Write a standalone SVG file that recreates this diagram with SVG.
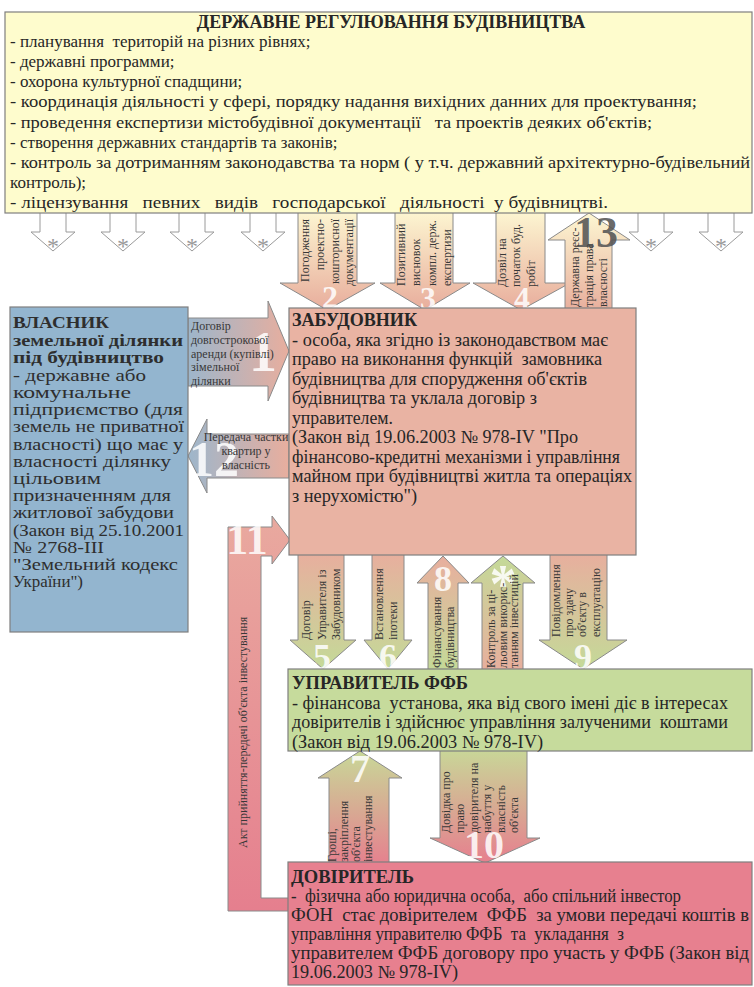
<svg xmlns="http://www.w3.org/2000/svg" width="754" height="987" viewBox="0 0 754 987">
<defs>
<style>
text { white-space: pre; font-family: "Liberation Serif", "Times New Roman", serif; }
.tx { fill: #262626; }
.b { font-weight: bold; }
.s17 { font-size: 17px; }
.s18 { font-size: 18px; }
.own { font-size: 17px; fill: #2e2e2e; }
.lbl { font-size: 12px; fill: #383838; }
.num { fill: #ffffff; fill-opacity: 0.85; text-anchor: middle; font-weight: bold; }
.star { fill: #9a9a9a; font-size: 24px; text-anchor: middle; }
.box { stroke: #7f7f7f; stroke-width: 1.2; }
.arr { stroke: #8a8a8a; stroke-width: 1; }
.hollow { fill: #ffffff; stroke: #9a9a9a; stroke-width: 1; }
</style>
<linearGradient id="gYS" x1="0" y1="0" x2="0" y2="1">
<stop offset="0" stop-color="#fdf7d2"/><stop offset="1" stop-color="#e8ad9c"/>
</linearGradient>
<linearGradient id="gSG" x1="0" y1="0" x2="0" y2="1">
<stop offset="0" stop-color="#e8ae9e"/><stop offset="1" stop-color="#c4da98"/>
</linearGradient>
<linearGradient id="gGS" x1="0" y1="0" x2="0" y2="1">
<stop offset="0" stop-color="#c4da98"/><stop offset="1" stop-color="#e8ae9e"/>
</linearGradient>
<linearGradient id="gGP" x1="0" y1="0" x2="0" y2="1">
<stop offset="0" stop-color="#c8d898"/><stop offset="1" stop-color="#e67f8e"/>
</linearGradient>
<linearGradient id="gBS" x1="0" y1="0" x2="1" y2="0">
<stop offset="0" stop-color="#9db6cb"/><stop offset="1" stop-color="#e8ae9e"/>
</linearGradient>
<linearGradient id="gSP" x1="0" y1="0" x2="0" y2="1">
<stop offset="0" stop-color="#e9a99f"/><stop offset="1" stop-color="#e57f8e"/>
</linearGradient>
</defs>
<rect width="754" height="987" fill="#ffffff"/>

<g id="connectors">
  <g id="star-arrows">
    <polygon class="hollow" points="40,210 66,210 66,232 75,232 53,251 31,232 40,232"/>
    <text class="star" x="53" y="254">*</text>
    <polygon class="hollow" points="110,210 136,210 136,232 145,232 123,251 101,232 110,232"/>
    <text class="star" x="123" y="254">*</text>
    <polygon class="hollow" points="179,210 205,210 205,232 214,232 192,251 170,232 179,232"/>
    <text class="star" x="192" y="254">*</text>
    <polygon class="hollow" points="250,210 276,210 276,232 285,232 263,251 241,232 250,232"/>
    <text class="star" x="263" y="254">*</text>
    <polygon class="hollow" points="638,210 664,210 664,232 673,232 651,251 629,232 638,232"/>
    <text class="star" x="651" y="254">*</text>
    <polygon class="hollow" points="708,210 734,210 734,232 743,232 721,251 699,232 708,232"/>
    <text class="star" x="721" y="254">*</text>
  </g>

  <g id="arrow-2">
    <polygon class="arr" fill="url(#gYS)" points="298,210 357,210 357,283 375,283 327,310 280,283 298,283"/>
    <text class="num" x="330" y="308" font-size="32" fill-opacity="0.7">2</text>
    <g class="lbl" text-anchor="end">
      <text transform="translate(309,219) rotate(-90)">Погодження</text>
      <text transform="translate(324,219) rotate(-90)">проектно-</text>
      <text transform="translate(339,219) rotate(-90)">кошторисної</text>
      <text transform="translate(353,219) rotate(-90)">документації</text>
    </g>
  </g>

  <g id="arrow-3">
    <polygon class="arr" fill="url(#gYS)" points="395,210 453,210 453,283 470,283 425,310 380,283 395,283"/>
    <text class="num" x="428" y="309" font-size="32" fill-opacity="0.7">3</text>
    <g class="lbl">
      <text transform="translate(405,286) rotate(-90)">Позитивний</text>
      <text transform="translate(420,286) rotate(-90)">висновок</text>
      <text transform="translate(436,286) rotate(-90)">компл. держ.</text>
      <text transform="translate(451,286) rotate(-90)">експертизи</text>
    </g>
  </g>

  <g id="arrow-4">
    <polygon class="arr" fill="url(#gYS)" points="496,210 545,210 545,283 570,283 521,310 473,283 496,283"/>
    <text class="num" x="522" y="309" font-size="32" fill-opacity="0.7">4</text>
    <g class="lbl">
      <text transform="translate(506,287) rotate(-90)">Дозвіл на</text>
      <text transform="translate(520,287) rotate(-90)">початок буд.</text>
      <text transform="translate(535,287) rotate(-90)">робіт</text>
    </g>
  </g>

  <g id="arrow-13">
    <polygon class="arr" fill="url(#gYS)" points="565,312 612,312 612,240 630,240 589,213 548,240 565,240"/>
    <text x="596" y="247" font-size="44" font-weight="bold" fill="#555555" fill-opacity="0.9" text-anchor="middle">13</text>
    <g class="lbl">
      <text transform="translate(579,307) rotate(-90)">Державна реєс-</text>
      <text transform="translate(593,307) rotate(-90)">трація права</text>
      <text transform="translate(607,307) rotate(-90)">власності</text>
    </g>
  </g>

  <g id="arrow-1">
    <polygon class="arr" fill="url(#gBS)" points="188,318 268,318 268,301 289,351 268,401 268,386 188,386"/>
    <text class="num" x="263" y="371" font-size="56">1</text>
    <g class="lbl">
      <text x="191" y="330">Договір</text>
      <text x="191" y="344">довгострокової</text>
      <text x="191" y="358">аренди (купівлі)</text>
      <text x="191" y="371">зімельної</text>
      <text x="191" y="385">ділянки</text>
    </g>
  </g>

  <g id="arrow-12">
    <polygon class="arr" fill="url(#gBS)" points="289,434 207,434 207,419 188,456 207,493 207,478 289,478"/>
    <text class="num" x="214" y="476" font-size="50">12</text>
    <g class="lbl" text-anchor="middle">
      <text x="246" y="441">Передача частки</text>
      <text x="246" y="455">квартир у</text>
      <text x="246" y="469">власність</text>
    </g>
  </g>

  <g id="arrow-11">
    <polygon class="arr" fill="url(#gSP)" points="296,898 261,898 261,556 272,556 272,564 290,540 272,516 272,527 228,527 228,911 296,911"/>
    <text class="num" x="247" y="554" font-size="44">11</text>
    <text class="lbl" font-size="11.5" transform="translate(247,848) rotate(-90)">Акт прийняття-передачі об'єкта інвестування</text>
  </g>

  <g id="arrow-5">
    <polygon class="arr" fill="url(#gSG)" points="298,552 344,552 344,640 356,640 323,669 290,640 298,640"/>
    <text class="num" x="322" y="669" font-size="36">5</text>
    <g class="lbl">
      <text transform="translate(310,640) rotate(-90)">Договір</text>
      <text transform="translate(326,640) rotate(-90)">Управителя із</text>
      <text transform="translate(340,640) rotate(-90)">Забудовником</text>
    </g>
  </g>

  <g id="arrow-6">
    <polygon class="arr" fill="url(#gSG)" points="372,552 404,552 404,640 412,640 388,669 364,640 372,640"/>
    <text class="num" x="388" y="669" font-size="36">6</text>
    <g class="lbl">
      <text transform="translate(383,640) rotate(-90)">Встановлення</text>
      <text transform="translate(397,640) rotate(-90)">іпотеки</text>
    </g>
  </g>

  <g id="arrow-8">
    <polygon class="arr" fill="url(#gSG)" points="428,672 458,672 458,583 469,583 443,556 417,583 428,583"/>
    <text class="num" x="443" y="591" font-size="36">8</text>
    <g class="lbl">
      <text transform="translate(441,668) rotate(-90)">Фінансування</text>
      <text transform="translate(454,668) rotate(-90)">будівництва</text>
    </g>
  </g>

  <g id="arrow-star">
    <polygon class="arr" fill="url(#gGS)" points="482,672 523,672 523,583 535,583 503,556 471,583 482,583"/>
    <text class="num" x="503" y="602" font-size="54">*</text>
    <g class="lbl" font-size="11.5">
      <text transform="translate(495,668) rotate(-90)">Контроль за ці-</text>
      <text transform="translate(507,668) rotate(-90)">льовим викорис-</text>
      <text transform="translate(518,668) rotate(-90)">танням інвестицій</text>
    </g>
  </g>

  <g id="arrow-9">
    <polygon class="arr" fill="url(#gSG)" points="550,552 607,552 607,640 627,640 583,669 539,640 550,640"/>
    <text class="num" x="583" y="669" font-size="36">9</text>
    <g class="lbl">
      <text transform="translate(560,637) rotate(-90)">Повідомлення</text>
      <text transform="translate(573,637) rotate(-90)">про здачу</text>
      <text transform="translate(586,637) rotate(-90)">об'єкту в</text>
      <text transform="translate(600,637) rotate(-90)">експлуатацію</text>
    </g>
  </g>

  <g id="arrow-7">
    <polygon class="arr" fill="url(#gGP)" points="329,866 389,866 389,778 402,778 360,751 318,778 329,778"/>
    <text class="num" x="360" y="782" font-size="40">7</text>
    <g class="lbl">
      <text transform="translate(336,862) rotate(-90)">Гроші,</text>
      <text transform="translate(348,862) rotate(-90)">закріплення</text>
      <text transform="translate(360,862) rotate(-90)">об'єкта</text>
      <text transform="translate(372,862) rotate(-90)">інвестування</text>
    </g>
  </g>

  <g id="arrow-10">
    <polygon class="arr" fill="url(#gGP)" points="440,748 527,748 527,838 540,838 485,863 430,838 440,838"/>
    <text class="num" x="484" y="858" font-size="40">10</text>
    <g class="lbl">
      <text transform="translate(450,833) rotate(-90)">Довідка про</text>
      <text transform="translate(464,833) rotate(-90)">право</text>
      <text transform="translate(478,833) rotate(-90)">довірителя на</text>
      <text transform="translate(491,833) rotate(-90)">набуття у</text>
      <text transform="translate(505,833) rotate(-90)">власність</text>
      <text transform="translate(518,833) rotate(-90)">об'єкта</text>
    </g>
  </g>
</g>

<g id="state-regulation">
  <rect class="box" x="5" y="12" width="747" height="201" fill="#fefccd"/>
  <g class="tx s17">
    <text x="391" y="28" class="b" font-size="18" text-anchor="middle">ДЕРЖАВНЕ РЕГУЛЮВАННЯ БУДІВНИЦТВА</text>
    <text x="10" y="47">- планування  територій на різних рівнях;</text>
    <text x="10" y="67">- державні программи;</text>
    <text x="10" y="87">- охорона культурної спадщини;</text>
    <text x="10" y="107" textLength="687" lengthAdjust="spacingAndGlyphs">- координація діяльності у сфері, порядку надання вихідних данних для проектування;</text>
    <text x="10" y="127.5" textLength="642" lengthAdjust="spacingAndGlyphs">- проведення експертизи містобудівної документації   та проектів деяких об'єктів;</text>
    <text x="10" y="147.5">- створення державних стандартів та законів;</text>
    <text x="10" y="167.5" textLength="740" lengthAdjust="spacingAndGlyphs">- контроль за дотриманням законодавства та норм ( у т.ч. державний архітектурно-будівельний</text>
    <text x="10" y="187.5">контроль);</text>
    <text x="10" y="207.5" textLength="598" lengthAdjust="spacingAndGlyphs">- ліцензування   певних   видів   господарської   діяльності  у будівництві.</text>
  </g>
</g>

<g id="owner">
  <rect class="box" x="10" y="307" width="178" height="325" fill="#93b5cf"/>
  <g class="own">
    <text x="13" y="328" class="b" textLength="96" lengthAdjust="spacingAndGlyphs">ВЛАСНИК</text>
    <text x="13" y="346" class="b" textLength="170" lengthAdjust="spacingAndGlyphs">земельної ділянки</text>
    <text x="13" y="363" class="b" textLength="151" lengthAdjust="spacingAndGlyphs">під будівництво</text>
    <text x="13" y="380.5" textLength="133" lengthAdjust="spacingAndGlyphs">- державне або</text>
    <text x="13" y="397.5" textLength="118" lengthAdjust="spacingAndGlyphs">комунальне</text>
    <text x="13" y="415" textLength="170" lengthAdjust="spacingAndGlyphs">підприємство (для</text>
    <text x="13" y="432" textLength="171" lengthAdjust="spacingAndGlyphs">земель не приватної</text>
    <text x="13" y="449.5" textLength="170" lengthAdjust="spacingAndGlyphs">власності) що має у</text>
    <text x="13" y="466.5" textLength="158" lengthAdjust="spacingAndGlyphs">власності ділянку</text>
    <text x="13" y="484" textLength="88" lengthAdjust="spacingAndGlyphs">цільовим</text>
    <text x="13" y="501" textLength="158" lengthAdjust="spacingAndGlyphs">призначенням для</text>
    <text x="13" y="518" textLength="161" lengthAdjust="spacingAndGlyphs">житлової забудови</text>
    <text x="13" y="535.5" textLength="171" lengthAdjust="spacingAndGlyphs">(Закон від 25.10.2001</text>
    <text x="13" y="552.5" textLength="91" lengthAdjust="spacingAndGlyphs">№ 2768-III</text>
    <text x="13" y="570" textLength="165" lengthAdjust="spacingAndGlyphs">"Земельний кодекс</text>
    <text x="13" y="587" textLength="70" lengthAdjust="spacingAndGlyphs">України")</text>
  </g>
</g>

<g id="developer">
  <rect class="box" x="289" y="308" width="347" height="247" fill="#e9b3a3"/>
  <g class="tx s18">
    <text x="292" y="326" class="b" textLength="125" lengthAdjust="spacingAndGlyphs">ЗАБУДОВНИК</text>
    <text x="292" y="345.5" textLength="316" lengthAdjust="spacingAndGlyphs">- особа, яка згідно із законодавством має</text>
    <text x="292" y="365" textLength="310" lengthAdjust="spacingAndGlyphs">право на виконання функцій  замовника</text>
    <text x="292" y="384.5" textLength="295" lengthAdjust="spacingAndGlyphs">будівництва для спорудження об'єктів</text>
    <text x="292" y="404" textLength="245" lengthAdjust="spacingAndGlyphs">будівництва та уклала договір з</text>
    <text x="292" y="423.5" textLength="101" lengthAdjust="spacingAndGlyphs">управителем.</text>
    <text x="292" y="443" textLength="286" lengthAdjust="spacingAndGlyphs">(Закон від 19.06.2003 № 978-IV "Про</text>
    <text x="292" y="462.5" textLength="328" lengthAdjust="spacingAndGlyphs">фінансово-кредитні механізми і управління</text>
    <text x="292" y="482" textLength="340" lengthAdjust="spacingAndGlyphs">майном при будівництві житла та операціях</text>
    <text x="292" y="501.5" textLength="125" lengthAdjust="spacingAndGlyphs">з нерухомістю")</text>
  </g>
</g>

<g id="manager">
  <rect class="box" x="288" y="669" width="464" height="82" fill="#c6db9c"/>
  <g class="tx s18">
    <text x="292" y="689" class="b" textLength="176" lengthAdjust="spacingAndGlyphs">УПРАВИТЕЛЬ ФФБ</text>
    <text x="292" y="708.5" textLength="436" lengthAdjust="spacingAndGlyphs">- фінансова  установа, яка від свого імені діє в інтересах</text>
    <text x="292" y="728" textLength="436" lengthAdjust="spacingAndGlyphs">довірителів і здійснює управління залученими  коштами</text>
    <text x="292" y="747.5" textLength="251" lengthAdjust="spacingAndGlyphs">(Закон від 19.06.2003 № 978-IV)</text>
  </g>
</g>

<g id="trustor">
  <rect class="box" x="288" y="862" width="464" height="123" fill="#e7808f"/>
  <g class="tx s18">
    <text x="291" y="883" class="b" textLength="123" lengthAdjust="spacingAndGlyphs">ДОВІРИТЕЛЬ</text>
    <text x="291" y="902" textLength="390" lengthAdjust="spacingAndGlyphs">-  фізична або юридична особа,  або спільний інвестор</text>
    <text x="291" y="921" textLength="458" lengthAdjust="spacingAndGlyphs">ФОН  стає довірителем  ФФБ  за умови передачі коштів в</text>
    <text x="291" y="940" textLength="333" lengthAdjust="spacingAndGlyphs">управління управителю ФФБ  та  укладання  з</text>
    <text x="291" y="959" textLength="458" lengthAdjust="spacingAndGlyphs">управителем ФФБ договору про участь у ФФБ (Закон від</text>
    <text x="291" y="978" textLength="167" lengthAdjust="spacingAndGlyphs">19.06.2003 № 978-IV)</text>
  </g>
</g>
</svg>
